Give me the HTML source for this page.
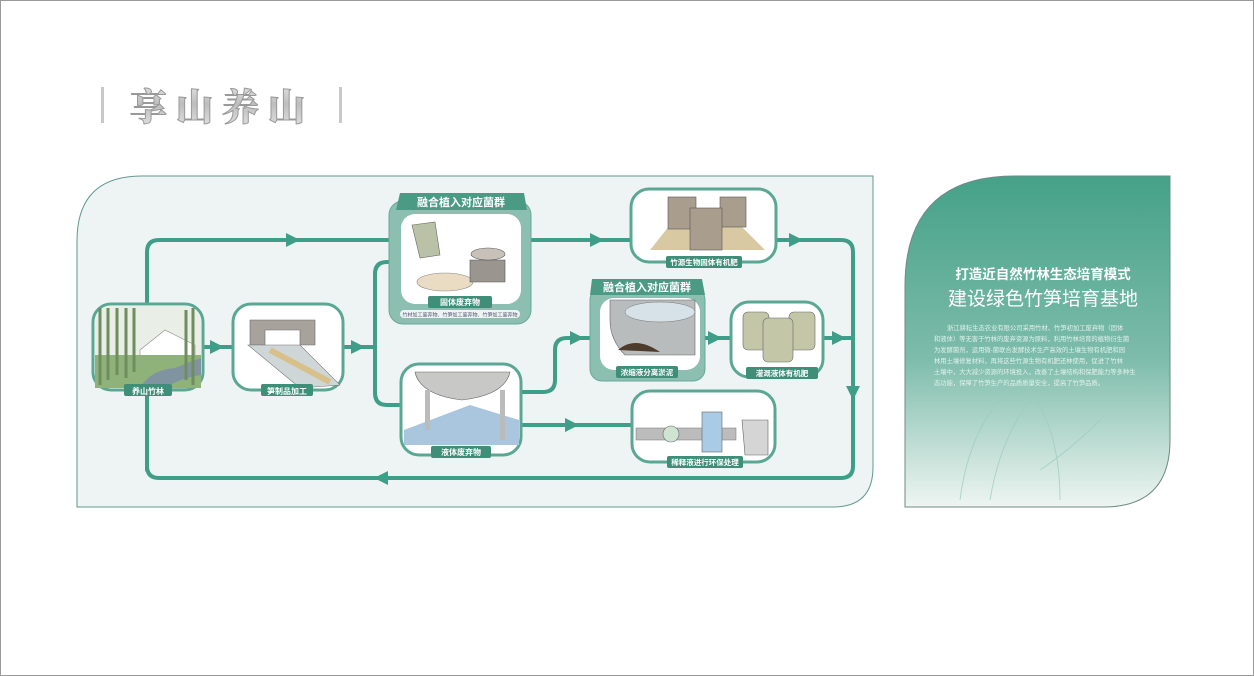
<!DOCTYPE html>
<html><head><meta charset="utf-8"><style>
html,body{margin:0;padding:0;background:#fff;}
body{width:1254px;height:676px;overflow:hidden;}
svg{display:block;font-family:"Liberation Sans","Noto Sans CJK SC",sans-serif;}
</style></head><body>
<svg width="1254" height="676" viewBox="0 0 1254 676" xmlns="http://www.w3.org/2000/svg">
<defs>
<linearGradient id="tg" x1="0" y1="0" x2="0" y2="1"><stop offset="0" stop-color="#f0f0f0"/><stop offset="0.5" stop-color="#bdbdbd"/><stop offset="1" stop-color="#e6e6e6"/></linearGradient>
<linearGradient id="rg" x1="0" y1="0" x2="0" y2="1"><stop offset="0" stop-color="#45a188"/><stop offset="0.55" stop-color="#7dbcaa"/><stop offset="1" stop-color="#eef5f2"/></linearGradient>
</defs>
<rect x="0.5" y="0.5" width="1253" height="675" fill="#fff" stroke="#9a9a9a"/>
<!-- title -->
<rect x="101" y="87" width="3" height="36" fill="#c8c8c8"/>
<rect x="339" y="87" width="3" height="36" fill="#c8c8c8"/>
<text x="222" y="120" text-anchor="middle" font-family="'Noto Serif CJK SC','Noto Sans CJK SC',serif" font-weight="900" font-size="37" letter-spacing="9" fill="url(#tg)" stroke="#999" stroke-width="1">享山养山</text>
<!-- main panel -->
<path d="M142,176 H873 V467 Q873,507 833,507 H77 V241 Q77,176 142,176Z" fill="#eef4f3" stroke="#5e9a8f" stroke-width="1"/>
<!-- lines -->
<g fill="none" stroke="#3f9e87" stroke-width="4" stroke-linecap="round">
<path d="M147,470 V252 Q147,240 159,240 H630"/>
<path d="M776,240 H841 Q853,240 853,252 V466 Q853,478 841,478 H159 Q147,478 147,466 V390"/>
<path d="M204,347 H232"/><path d="M343,347 H375"/>
<path d="M389,262 H387 Q375,262 375,274 V393 Q375,405 387,405 H401"/>
<path d="M521,392 H543 Q555,392 555,380 V350 Q555,338 567,338 H590"/>
<path d="M705,338 H731"/><path d="M823,338 H853"/>
<path d="M521,425 H632"/>
</g>
<g fill="#3f9e87">
<path d="M286,233 L300,240 L286,247Z"/><path d="M590,233 L604,240 L590,247Z"/><path d="M789,233 L803,240 L789,247Z"/>
<path d="M846,386 L853,400 L860,386Z"/><path d="M388,471 L374,478 L388,485Z"/>
<path d="M210,340 L224,347 L210,354Z"/><path d="M351,340 L365,347 L351,354Z"/>
<path d="M570,331 L584,338 L570,345Z"/><path d="M708,331 L722,338 L708,345Z"/><path d="M832,331 L846,338 L832,345Z"/>
<path d="M565,418 L579,425 L565,432Z"/>
</g>
<!-- forest node -->
<rect x="93" y="304" width="110" height="86" rx="18" fill="#fff" stroke="#5aa893" stroke-width="3"/>
<rect x="95" y="306" width="106" height="82" rx="16" fill="#e9efe6"/>
<path d="M140,350 L165,330 L195,345 V388 H140Z" fill="#fff" stroke="#888" stroke-width="0.6"/>
<path d="M95,355 H201 V388 H95Z" fill="#8fb27b"/>
<path d="M140,388 Q150,370 175,368 Q195,360 201,358 V375 Q180,378 165,388Z" fill="#7f93a0"/>
<g stroke="#6f8d5f" stroke-width="3"><line x1="100" y1="308" x2="100" y2="385"/><line x1="108" y1="308" x2="108" y2="380"/><line x1="117" y1="308" x2="117" y2="375"/><line x1="126" y1="308" x2="126" y2="378"/><line x1="134" y1="308" x2="134" y2="372"/><line x1="193" y1="308" x2="193" y2="385"/><line x1="186" y1="310" x2="186" y2="380"/></g>
<rect x="124" y="384" width="48" height="12" rx="2" fill="#3f8f78"/>
<text x="148" y="394" text-anchor="middle" font-size="8" font-weight="bold" fill="#fff">养山竹林</text>
<!-- processing node -->
<rect x="233" y="304" width="110" height="86" rx="18" fill="#fff" stroke="#5aa893" stroke-width="3"/>
<path d="M250,320 H315 V345 H300 V330 H265 V345 H250Z" fill="#a8a29c" stroke="#666" stroke-width="0.6"/>
<path d="M248,345 L300,345 L340,385 L300,388Z" fill="#cfd6d8" stroke="#777" stroke-width="0.6"/>
<path d="M270,350 L330,382" stroke="#d8c08a" stroke-width="6"/>
<rect x="261" y="384" width="52" height="12" rx="2" fill="#3f8f78"/>
<text x="287" y="394" text-anchor="middle" font-size="8" font-weight="bold" fill="#fff">笋制品加工</text>
<!-- fusion box 1 -->
<rect x="389" y="201" width="142" height="123" rx="14" fill="#8cbfb0" stroke="#6aa999" stroke-width="1"/>
<path d="M400,193 H524 L527,210 H396Z" fill="#4b9a84"/>
<text x="461" y="206" text-anchor="middle" font-size="11" font-weight="bold" fill="#fff">融合植入对应菌群</text>
<rect x="401" y="214" width="120" height="90" rx="14" fill="#fff"/>
<path d="M412,225 L435,222 L440,255 L420,258Z" fill="#b9c2a7" stroke="#666" stroke-width="0.6"/>
<ellipse cx="445" cy="282" rx="28" ry="9" fill="#eadcc2" stroke="#888" stroke-width="0.6"/>
<path d="M470,260 H505 V282 H470Z" fill="#9a968f" stroke="#555" stroke-width="0.6"/>
<ellipse cx="488" cy="254" rx="17" ry="6" fill="#c7c1b8" stroke="#555" stroke-width="0.6"/>
<rect x="428" y="296" width="64" height="12" rx="2" fill="#3f8f78"/>
<text x="460" y="305" text-anchor="middle" font-size="8" font-weight="bold" fill="#fff">固体废弃物</text>
<rect x="400" y="310" width="120" height="8" rx="4" fill="#eef4f3"/>
<text x="460" y="316.5" text-anchor="middle" font-size="5" fill="#557">竹材加工废弃物、竹笋加工废弃物、竹笋加工废弃物</text>
<!-- fertilizer node -->
<rect x="631" y="189" width="145" height="73" rx="18" fill="#fff" stroke="#5aa893" stroke-width="3"/>
<path d="M650,250 L670,225 H740 L765,250Z" fill="#d9c9a3"/>
<rect x="668" y="197" width="28" height="32" fill="#a99e8e" stroke="#555" stroke-width="0.6"/>
<rect x="720" y="197" width="26" height="30" fill="#a99e8e" stroke="#555" stroke-width="0.6"/>
<rect x="690" y="208" width="32" height="42" fill="#a99e8e" stroke="#555" stroke-width="0.6"/>
<rect x="666" y="256" width="76" height="12" rx="2" fill="#3f8f78"/>
<text x="704" y="265" text-anchor="middle" font-size="7.5" font-weight="bold" fill="#fff">竹源生物固体有机肥</text>
<!-- fusion box 2 -->
<rect x="590" y="288" width="115" height="93" rx="12" fill="#8cbfb0" stroke="#6aa999" stroke-width="1"/>
<path d="M592,279 H702 L705,295 H590Z" fill="#4b9a84"/>
<text x="647" y="291" text-anchor="middle" font-size="11" font-weight="bold" fill="#fff">融合植入对应菌群</text>
<rect x="600" y="298" width="100" height="72" rx="14" fill="#fff"/>
<path d="M610,300 H695 V355 H625 Q610,340 610,320Z" fill="#b8bcbc" stroke="#666" stroke-width="0.6"/>
<ellipse cx="660" cy="312" rx="35" ry="10" fill="#d6e2e8" stroke="#777" stroke-width="0.5"/>
<path d="M618,350 Q635,335 660,352 Z" fill="#4d3b2c"/>
<rect x="616" y="366" width="62" height="12" rx="2" fill="#3f8f78"/>
<text x="647" y="375" text-anchor="middle" font-size="7.5" font-weight="bold" fill="#fff">浓缩液分离淤泥</text>
<!-- jars -->
<rect x="731" y="302" width="92" height="75" rx="18" fill="#fff" stroke="#5aa893" stroke-width="3"/>
<rect x="743" y="312" width="26" height="38" rx="5" fill="#c4c6a8" stroke="#666" stroke-width="0.6"/>
<rect x="789" y="312" width="26" height="38" rx="5" fill="#c4c6a8" stroke="#666" stroke-width="0.6"/>
<rect x="763" y="318" width="30" height="44" rx="5" fill="#c4c6a8" stroke="#666" stroke-width="0.6"/>
<rect x="746" y="367" width="72" height="12" rx="2" fill="#3f8f78"/>
<text x="782" y="376" text-anchor="middle" font-size="7.5" font-weight="bold" fill="#fff">灌溉液体有机肥</text>
<!-- liquid node -->
<rect x="401" y="364" width="120" height="91" rx="18" fill="#fff" stroke="#5aa893" stroke-width="3"/>
<path d="M415,372 H510 Q505,395 462,400 Q420,395 415,372Z" fill="#c8c8c6" stroke="#666" stroke-width="0.6"/>
<path d="M404,430 L470,405 L519,420 V445 H404Z" fill="#a9c6de"/>
<rect x="425" y="390" width="5" height="40" fill="#bbb"/><rect x="500" y="390" width="5" height="50" fill="#bbb"/>
<rect x="431" y="446" width="60" height="12" rx="2" fill="#3f8f78"/>
<text x="461" y="455" text-anchor="middle" font-size="8" font-weight="bold" fill="#fff">液体废弃物</text>
<!-- dilution node -->
<rect x="632" y="391" width="143" height="71" rx="18" fill="#fff" stroke="#5aa893" stroke-width="3"/>
<rect x="636" y="428" width="100" height="12" fill="#bcbcbc" stroke="#777" stroke-width="0.5"/>
<circle cx="671" cy="434" r="8" fill="#cfe3d3" stroke="#666" stroke-width="0.6"/>
<rect x="702" y="412" width="20" height="40" fill="#a9cbe6" stroke="#666" stroke-width="0.6"/>
<path d="M742,420 H768 V455 H745Z" fill="#d5d5d5" stroke="#666" stroke-width="0.6"/>
<rect x="667" y="456" width="76" height="12" rx="2" fill="#3f8f78"/>
<text x="705" y="465" text-anchor="middle" font-size="7.5" font-weight="bold" fill="#fff">稀释液进行环保处理</text>
<!-- right panel -->
<path d="M905,507 V286 Q905,176 1015,176 H1170 V440 Q1170,507 1103,507Z" fill="url(#rg)" stroke="#6f8b85" stroke-width="1"/>
<g fill="none" stroke="#9ccbbd" stroke-width="1" opacity="0.7">
<path d="M960,500 Q970,420 1020,380 Q1060,420 1060,500"/><path d="M990,500 Q1000,440 1030,400"/><path d="M1040,470 Q1070,450 1100,420"/>
</g>
<text x="1043" y="279" text-anchor="middle" font-size="13.5" font-weight="bold" fill="#fff">打造近自然竹林生态培育模式</text>
<text x="1043" y="305" text-anchor="middle" font-size="19" fill="#fff">建设绿色竹笋培育基地</text>
<g font-size="6.3" fill="#e3f1ec">
<text x="947" y="330">浙江耕耘生态农业有限公司采用竹材、竹笋初加工废弃物（固体</text>
<text x="934" y="341">和液体）等无害于竹林的废弃资源为原料，利用竹林培育的植物衍生菌</text>
<text x="934" y="352">为发酵菌剂，运用微-菌联合发酵技术生产高效的土壤生物有机肥和园</text>
<text x="934" y="363">林用土壤修复材料，再将这些竹源生物有机肥还林使用，促进了竹林</text>
<text x="934" y="374">土壤中，大大减少资源的环境投入，改善了土壤结构和保肥能力等多种生</text>
<text x="934" y="385">态功能，保障了竹笋生产的品质质量安全，提高了竹笋品质。</text>
</g>
</svg>
</body></html>
